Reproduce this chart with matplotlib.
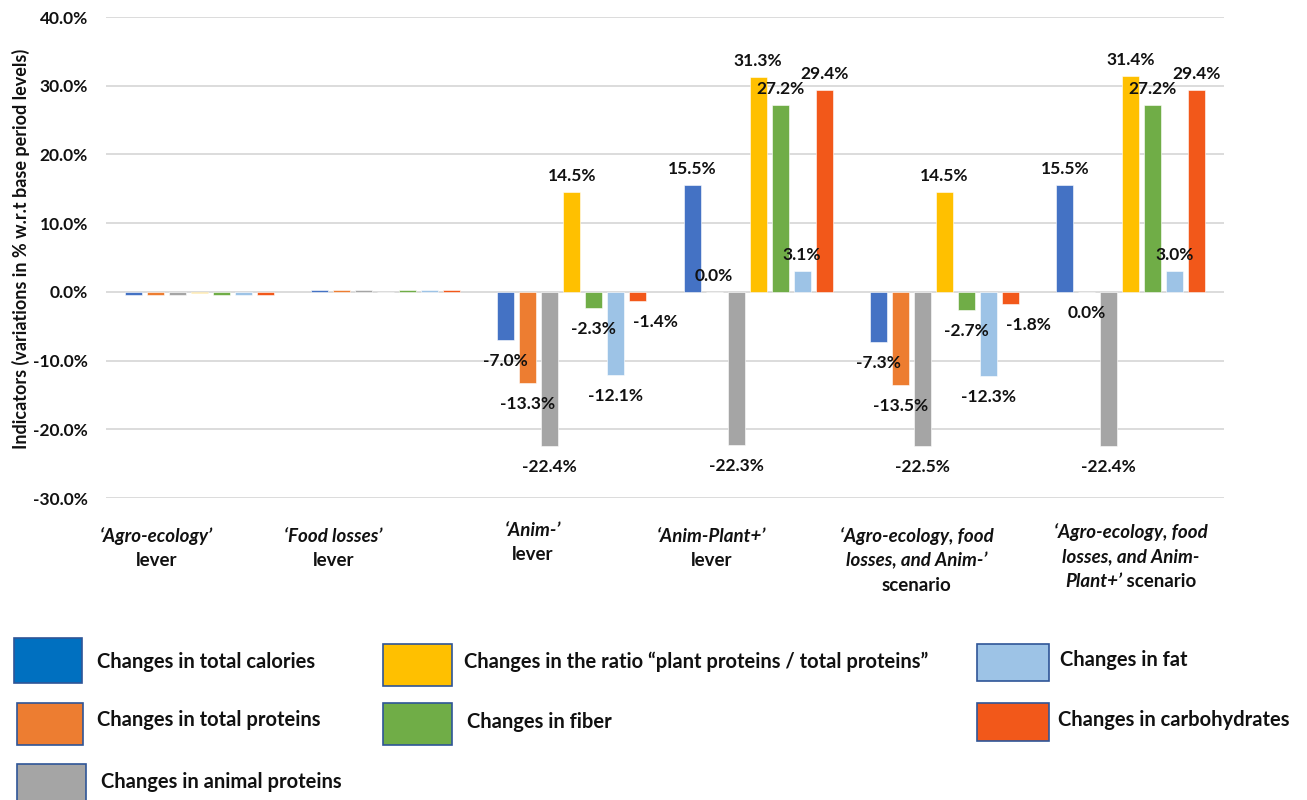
import matplotlib
matplotlib.use("Agg")
import matplotlib.pyplot as plt
import numpy as np
from matplotlib.patches import Rectangle

plt.rcParams["font.family"] = ["Lato", "DejaVu Sans"]

# ---------------- data ----------------
categories = [
    "‘Agro-ecology’\nlever",
    "‘Food losses’\nlever",
    "‘Anim-’\nlever",
    "‘Anim-Plant+’\nlever",
    "‘Agro-ecology, food\nlosses, and Anim-’\nscenario",
    "‘Agro-ecology, food\nlosses, and Anim-\nPlant+’ scenario",
]

series_names = [
    "Changes in total calories",
    "Changes in total proteins",
    "Changes in animal proteins",
    "Changes in the ratio “plant proteins / total proteins”",
    "Changes in fiber",
    "Changes in fat",
    "Changes in carbohydrates",
]

total_calories = [-0.4, 0.3, -7.0, 15.5, -7.3, 15.5]
total_proteins = [-0.4, 0.3, -13.3, 0.0, -13.5, -0.04]
animal_proteins = [-0.4, 0.3, -22.4, -22.3, -22.5, -22.4]
plant_ratio = [-0.2, 0.0, 14.5, 31.3, 14.5, 31.4]
fiber = [-0.4, 0.3, -2.3, 27.2, -2.7, 27.2]
fat = [-0.4, 0.3, -12.1, 3.1, -12.3, 3.0]
carbohydrates = [-0.5, 0.3, -1.4, 29.4, -1.8, 29.4]

series_values = [total_calories, total_proteins, animal_proteins, plant_ratio,
                 fiber, fat, carbohydrates]

y_ticks = [-30, -20, -10, 0, 10, 20, 30, 40]
y_label = "Indicators (variations in % w.r.t base period levels)"

# ---------------- style ----------------
bar_colors = ["#4472C4", "#ED7D31", "#A5A5A5", "#FFC000", "#70AD47", "#9DC3E6", "#F2581A"]
legend_colors = ["#0070C0", "#ED7D31", "#A5A5A5", "#FFC000", "#70AD47", "#9DC3E6", "#F2581A"]
labelled_groups = [2, 3, 4, 5]
W, H = 1307, 800
TXT = "#111111"

fig = plt.figure(figsize=(W / 100, H / 100), dpi=100)
ax = fig.add_axes([106 / W, 1 - 498 / H, (1224 - 106) / W, (498 - 17) / H])

n_series = len(series_values)
x = np.arange(len(categories))
slot = 0.118
width = 0.092

for k, (vals, col) in enumerate(zip(series_values, bar_colors)):
    pos = x + (k - (n_series - 1) / 2) * slot
    ax.bar(pos, vals, width=width, color=col, edgecolor="white", linewidth=0.4, zorder=3)
    for gi in labelled_groups:
        v = vals[gi]
        txt = f"{round(v, 1) + 0.0:.1f}%"
        if v >= 0:
            off = (0, 16)
        else:
            off = (18 if k == n_series - 1 else 0, -21)
        ax.annotate(txt, (pos[gi], v), xytext=off, textcoords="offset pixels",
                    ha="center", va="center", fontsize=12.5, fontweight="bold",
                    color=TXT, zorder=5)

ax.set_xlim(-0.5, len(categories) - 0.5)
ax.set_ylim(-30, 40)
ax.set_yticks(y_ticks)
ax.set_yticklabels([f"{t:.1f}%" for t in y_ticks], fontsize=12.5, fontweight="bold",
                   color=TXT)
ax.tick_params(axis="y", length=0, pad=13)
ax.set_xticks([])
ax.grid(axis="y", color="#D9D9D9", linewidth=1.3, zorder=0)
for s in ax.spines.values():
    s.set_visible(False)

fig.text(21 / W, 1 - 249 / H, y_label, rotation=90, ha="center", va="center",
         fontsize=13, fontweight="bold", color=TXT)

# ---------------- category labels (italic inside quotes) ----------------
def split_segments(line, italic):
    segs, cur = [], ""
    for ch in line:
        if ch == "‘":
            if cur:
                segs.append((cur, italic))
            cur, italic = ch, True
        elif ch == "’":
            cur += ch
            segs.append((cur, True))
            cur, italic = "", False
        else:
            cur += ch
    if cur:
        segs.append((cur, italic))
    return segs, italic

fig.canvas.draw()
renderer = fig.canvas.get_renderer()
cat_dx = [-0.23, -0.28, -0.21, -0.25, -0.15, 0.0]
cat_y0 = [536, 536, 530, 536, 536, 532]
line_gap = 24.5
for gi, cat in enumerate(categories):
    cx = ax.transData.transform((x[gi] + cat_dx[gi], 0))[0]
    italic = False
    for li, line in enumerate(cat.split("\n")):
        segs, italic = split_segments(line, italic)
        texts = []
        for s, it in segs:
            t = fig.text(0, 0, s, fontsize=13.5, fontweight="bold",
                         fontstyle="italic" if it else "normal",
                         ha="left", va="baseline", color=TXT)
            texts.append(t)
        widths = [t.get_window_extent(renderer).width for t in texts]
        total = sum(widths)
        xs = cx - total / 2
        yb = H - (cat_y0[gi] + li * line_gap) - 6
        for t, w in zip(texts, widths):
            t.set_position((xs / W, yb / H))
            xs += w

# ---------------- legend ----------------
legend_boxes = [(14, 638, 82, 683), (17, 703, 83, 745), (17, 764, 86, 810),
                (383, 644, 452, 686), (383, 703, 452, 745),
                (977, 644, 1049, 681), (977, 703, 1049, 741)]
legend_text = [(97, 662), (97, 720), (101, 782), (464, 662), (467, 722),
               (1060, 660), (1058, 720)]
for name, col, (x0, y0, x1, y1), (tx, ty) in zip(series_names, legend_colors,
                                                 legend_boxes, legend_text):
    fig.add_artist(Rectangle((x0 / W, 1 - y1 / H), (x1 - x0) / W, (y1 - y0) / H,
                             transform=fig.transFigure, facecolor=col,
                             edgecolor="#2F5597", linewidth=1.2, clip_on=False))
    fig.text(tx / W, 1 - ty / H, name, ha="left", va="center",
             fontsize=14.5, fontweight="bold", color=TXT)

fig.savefig("out.png", dpi=100, facecolor="white")
